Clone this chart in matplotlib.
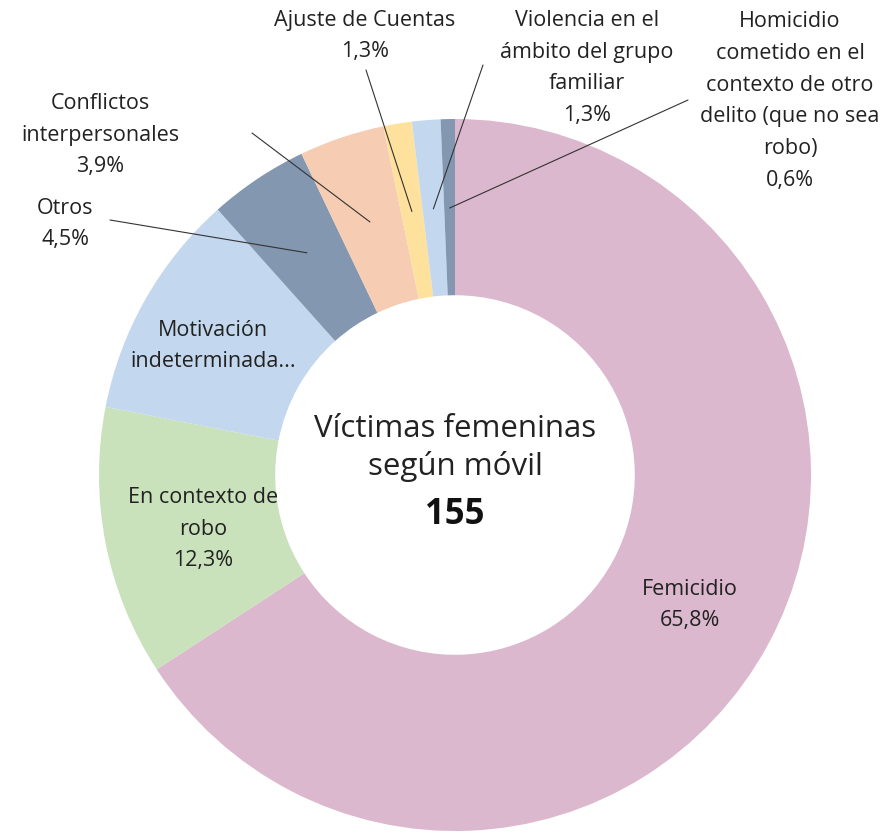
import numpy as np
import matplotlib.pyplot as plt

plt.rcParams['font.family'] = ['Open Sans', 'DejaVu Sans']

# datos: víctimas femeninas según móvil (total 155)
categorias = ["Femicidio", "En contexto de robo", "Motivación indeterminada...",
              "Otros", "Conflictos interpersonales", "Ajuste de Cuentas",
              "Violencia en el ámbito del grupo familiar",
              "Homicidio cometido en el contexto de otro delito (que no sea robo)"]
victimas = [102, 19, 16, 7, 6, 2, 2, 1]
colores = ["#DBB8CD", "#C9E2BB", "#C3D8EE", "#8497B0",
           "#F6CCB3", "#FDE19D", "#C3D8EE", "#8497B0"]
etiquetas = ["Femicidio", "En contexto de\nrobo", "Motivación\nindeterminada...",
             "Otros", "Conflictos\ninterpersonales", "Ajuste de Cuentas",
             "Violencia en el\námbito del grupo\nfamiliar",
             "Homicidio\ncometido en el\ncontexto de otro\ndelito (que no sea\nrobo)"]

W, H = 893, 833
cx, cy, R = 455, 475, 356  # centro y radio en pixeles

fig = plt.figure(figsize=(W / 100, H / 100), dpi=100)
ax = fig.add_axes([0, 0, 1, 1])

wedges, _ = ax.pie(victimas, colors=colores, startangle=90, counterclock=False,
                   radius=1, wedgeprops=dict(width=0.495, linewidth=0))

ax.set_xlim(-cx / R, (W - cx) / R)
ax.set_ylim(-(H - cy) / R, cy / R)
ax.set_aspect('equal')
ax.axis('off')

total = sum(victimas)
porc = [f"{100 * v / total:.1f}".replace('.', ',') + "%" for v in victimas]


def px(x, y):
    return ((x - cx) / R, (cy - y) / R)


col_txt = "#222222"
fs = 15.5
ls = 1.68

# etiquetas dentro del anillo
dentro = {0: (690, 605), 1: (203, 529), 2: (213, 346)}
for i, (x, y) in dentro.items():
    txt = etiquetas[i] if i == 2 else etiquetas[i] + "\n" + porc[i]
    ax.text(*px(x, y), txt, ha='center', va='center', fontsize=fs,
            color=col_txt, linespacing=ls)

# etiquetas externas con lineas guia: (centro texto, origen linea)
fuera = {
    3: ((65, 224), (110, 220)),
    4: ((100, 135), (252, 133)),
    5: ((365, 36), (366, 70)),
    6: ((587, 68), (483, 65)),
    7: ((790, 101), (688, 100)),
}
for i, (pos_txt, pos_lin) in fuera.items():
    ax.text(*px(*pos_txt), etiquetas[i] + "\n" + porc[i], ha='center',
            va='center', fontsize=fs, color=col_txt, linespacing=ls)
    w = wedges[i]
    ang = np.deg2rad((w.theta1 + w.theta2) / 2)
    punta = (0.75 * np.cos(ang), 0.75 * np.sin(ang))
    ax.annotate("", xy=punta, xytext=px(*pos_lin),
                arrowprops=dict(arrowstyle='-', color='#333333', lw=0.8,
                                shrinkA=0, shrinkB=0))

# texto central
ax.text(*px(cx, 448), "Víctimas femeninas\nsegún móvil", ha='center',
        va='center', fontsize=22.5, color=col_txt, linespacing=1.3)
ax.text(*px(cx, 515), str(total), ha='center', va='center', fontsize=25,
        fontweight='bold', color='#111111')

fig.savefig("out.png", dpi=100)
